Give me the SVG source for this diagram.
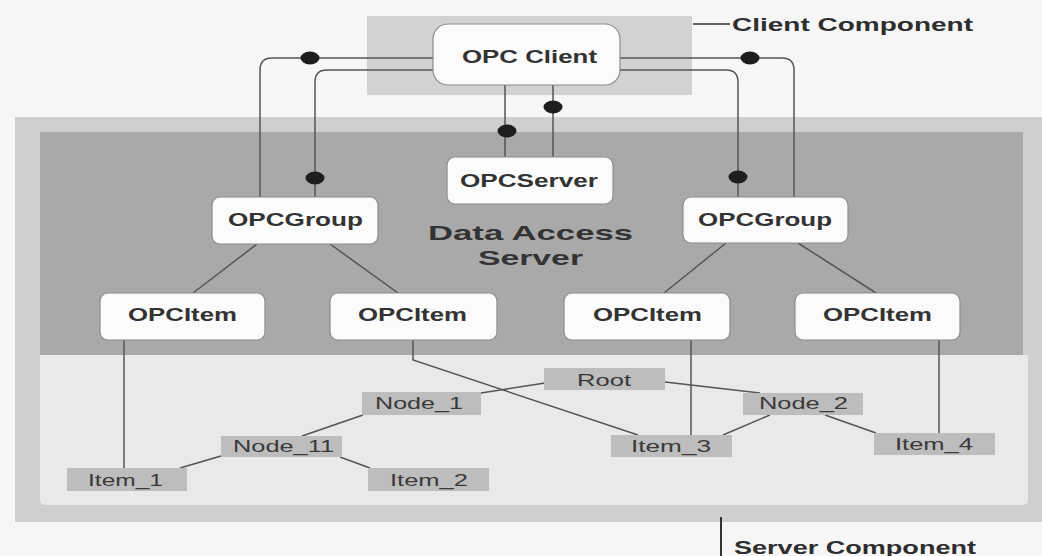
<svg xmlns="http://www.w3.org/2000/svg" width="1042" height="556" viewBox="0 0 1042 556">
  <defs>
    <style>
      .bg { fill: #f6f6f6; }
      .client-area { fill: #d2d2d2; }
      .server-area { fill: #cfcfcf; }
      .das-area { fill: #a9a9a9; }
      .ns-area { fill: #e9e9e9; }
      .obj { fill: #fbfbfb; stroke: #8c8c8c; stroke-width: 1.2; }
      .obj-text { font-family: "Liberation Sans", Arial, sans-serif; font-weight: bold; font-size: 18px; fill: #333; text-anchor: start; }
      .tree { fill: #bdbdbd; }
      .tree-text { font-family: "Liberation Sans", Arial, sans-serif; font-size: 17px; fill: #3a3a3a; }
      .label { font-family: "Liberation Sans", Arial, sans-serif; font-weight: bold; font-size: 18px; fill: #2e2e2e; }
      .title { font-family: "Liberation Sans", Arial, sans-serif; font-weight: bold; font-size: 21px; fill: #333; }
      .conn { fill: none; stroke: #555; stroke-width: 1.5; }
      .dot { fill: #1e1e1e; }
      .lead { stroke: #333; fill: none; }
    </style>
  </defs>

  <rect class="bg" x="0" y="0" width="1042" height="556"/>

  <!-- Areas -->
  <g id="server-component-area">
    <rect class="server-area" x="15" y="117" width="1027" height="405"/>
    <rect class="das-area" x="40" y="132" width="983" height="223"/>
    <path class="ns-area" d="M40,355 H1028 V499 Q1028,505 1022,505 H46 Q40,505 40,499 Z"/>
  </g>
  <g id="client-component-area">
    <rect class="client-area" x="367" y="16" width="325" height="79"/>
  </g>

  <!-- Connectors -->
  <g id="connectors">
    <path class="conn" d="M433,58 H272 Q260,58 260,70 V197"/>
    <path class="conn" d="M433,70 H327 Q315,70 315,82 V197"/>
    <path class="conn" d="M620,58 H782 Q794,58 794,70 V197"/>
    <path class="conn" d="M620,70 H726 Q738,70 738,82 V197"/>
    <path class="conn" d="M505,85 V157"/>
    <path class="conn" d="M553,85 V157"/>
    <path class="conn" d="M257,244 L193,293"/>
    <path class="conn" d="M330,244 L398,293"/>
    <path class="conn" d="M726,243 L664,293"/>
    <path class="conn" d="M798,243 L876,293"/>
    <path class="conn" d="M124,340 V468"/>
    <path class="conn" d="M413,340 V360 L638,435"/>
    <path class="conn" d="M691,340 V435"/>
    <path class="conn" d="M939,340 V433"/>
    <path class="conn" d="M481,393 L545,383"/>
    <path class="conn" d="M363,415 L302,436"/>
    <path class="conn" d="M221,456 L180,468"/>
    <path class="conn" d="M340,457 L370,468"/>
    <path class="conn" d="M665,382 L760,393"/>
    <path class="conn" d="M770,415 L723,435"/>
    <path class="conn" d="M825,415 L876,433"/>
    <ellipse class="dot" cx="310" cy="58" rx="9.5" ry="6.5"/>
    <ellipse class="dot" cx="315" cy="178" rx="9.5" ry="6.5"/>
    <ellipse class="dot" cx="750" cy="58" rx="9.5" ry="6.5"/>
    <ellipse class="dot" cx="738" cy="177" rx="9.5" ry="6.5"/>
    <ellipse class="dot" cx="553" cy="107" rx="9.5" ry="6.5"/>
    <ellipse class="dot" cx="507" cy="131" rx="9.5" ry="6.5"/>
  </g>

  <!-- Objects -->
  <g id="opc-client">
    <rect class="obj" x="433" y="24" width="187" height="61" rx="15"/>
    <text class="obj-text" x="462" y="63" textLength="135" lengthAdjust="spacingAndGlyphs">OPC Client</text>
  </g>
  <g id="opc-server">
    <rect class="obj" x="447" y="157" width="166" height="47" rx="8"/>
    <text class="obj-text" x="460" y="187" textLength="138" lengthAdjust="spacingAndGlyphs">OPCServer</text>
  </g>
  <g id="opc-group-left">
    <rect class="obj" x="212" y="197" width="166" height="47" rx="8"/>
    <text class="obj-text" x="228" y="226" textLength="135" lengthAdjust="spacingAndGlyphs">OPCGroup</text>
  </g>
  <g id="opc-group-right">
    <rect class="obj" x="683" y="197" width="165" height="46" rx="8"/>
    <text class="obj-text" x="698" y="226" textLength="134" lengthAdjust="spacingAndGlyphs">OPCGroup</text>
  </g>
  <g id="opc-item-1">
    <rect class="obj" x="100" y="293" width="165" height="47" rx="8"/>
    <text class="obj-text" x="128" y="321" textLength="109" lengthAdjust="spacingAndGlyphs">OPCItem</text>
  </g>
  <g id="opc-item-2">
    <rect class="obj" x="330" y="293" width="167" height="47" rx="8"/>
    <text class="obj-text" x="358" y="321" textLength="109" lengthAdjust="spacingAndGlyphs">OPCItem</text>
  </g>
  <g id="opc-item-3">
    <rect class="obj" x="564" y="293" width="166" height="47" rx="8"/>
    <text class="obj-text" x="593" y="321" textLength="109" lengthAdjust="spacingAndGlyphs">OPCItem</text>
  </g>
  <g id="opc-item-4">
    <rect class="obj" x="795" y="293" width="165" height="47" rx="8"/>
    <text class="obj-text" x="823" y="321" textLength="109" lengthAdjust="spacingAndGlyphs">OPCItem</text>
  </g>

  <g id="data-access-server-label">
    <text class="title" x="428" y="240" textLength="205" lengthAdjust="spacingAndGlyphs">Data Access</text>
    <text class="title" x="478" y="265" textLength="105" lengthAdjust="spacingAndGlyphs">Server</text>
  </g>

  <!-- Namespace tree -->
  <g id="root">
    <rect class="tree" x="544" y="368" width="121" height="22"/>
    <text class="tree-text" x="577" y="386" textLength="54" lengthAdjust="spacingAndGlyphs">Root</text>
  </g>
  <g id="node-1">
    <rect class="tree" x="362" y="392" width="119" height="23"/>
    <text class="tree-text" x="375" y="409" textLength="88" lengthAdjust="spacingAndGlyphs">Node_1</text>
  </g>
  <g id="node-11">
    <rect class="tree" x="221" y="436" width="121" height="21"/>
    <text class="tree-text" x="233" y="452" textLength="101" lengthAdjust="spacingAndGlyphs">Node_11</text>
  </g>
  <g id="item-1">
    <rect class="tree" x="67" y="468" width="120" height="23"/>
    <text class="tree-text" x="88" y="486" textLength="75" lengthAdjust="spacingAndGlyphs">Item_1</text>
  </g>
  <g id="item-2">
    <rect class="tree" x="368" y="468" width="121" height="23"/>
    <text class="tree-text" x="390" y="486" textLength="78" lengthAdjust="spacingAndGlyphs">Item_2</text>
  </g>
  <g id="node-2">
    <rect class="tree" x="743" y="393" width="120" height="22"/>
    <text class="tree-text" x="759" y="409" textLength="89" lengthAdjust="spacingAndGlyphs">Node_2</text>
  </g>
  <g id="item-3">
    <rect class="tree" x="611" y="435" width="121" height="22"/>
    <text class="tree-text" x="631" y="452" textLength="80" lengthAdjust="spacingAndGlyphs">Item_3</text>
  </g>
  <g id="item-4">
    <rect class="tree" x="874" y="433" width="121" height="22"/>
    <text class="tree-text" x="895" y="450" textLength="78" lengthAdjust="spacingAndGlyphs">Item_4</text>
  </g>

  <!-- Callout labels -->
  <g id="client-component-label">
    <line class="lead" x1="693" y1="24" x2="730" y2="24" stroke-width="1.5"/>
    <text class="label" x="732" y="31" textLength="241" lengthAdjust="spacingAndGlyphs">Client Component</text>
  </g>
  <g id="server-component-label">
    <line class="lead" x1="721" y1="517" x2="721" y2="556" stroke-width="2"/>
    <text class="label" x="734" y="554" textLength="242" lengthAdjust="spacingAndGlyphs">Server Component</text>
  </g>
</svg>
